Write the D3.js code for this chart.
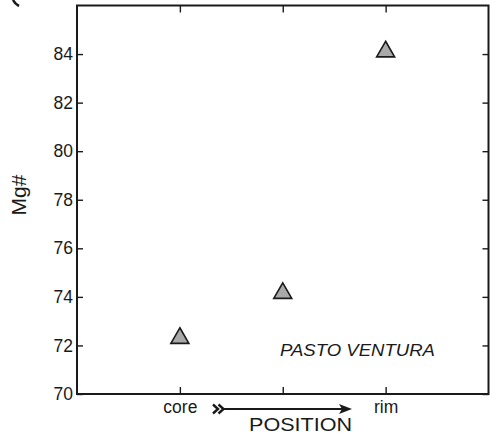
<!DOCTYPE html>
<html>
<head>
<meta charset="utf-8">
<script src="https://cdn.jsdelivr.net/npm/d3@7"></script>
<style>
  html, body { margin: 0; padding: 0; background: #fff; }
  svg { display: block; font-family: "Liberation Sans", Arial, sans-serif; }
</style>
</head>
<body>
<svg id="chart" width="490" height="434"></svg>
<script>
// Mg# of the crystal zones, core to rim
const positionLabels = ["core", "", "rim"];
const positionIndex = [1, 2, 3];
const mgNumber = [72.3, 74.15, 84.1];
const yTicks = [70, 72, 74, 76, 78, 80, 82, 84];

const svg = d3.select("#chart");
const plotLeft = 77, plotRight = 488.5, plotTop = 5.5, plotBottom = 394;

const x = d3.scaleLinear().domain([0, 4]).range([plotLeft, plotRight]);
const y = d3.scaleLinear().domain([70, 86]).range([plotBottom, plotTop]);

const ink = "#1a1a1a";
const font = "'Liberation Sans', Arial, sans-serif";

// left axis with labels, ticks pointing inward
const gl = svg.append("g").attr("transform", `translate(${plotLeft},0)`)
  .call(d3.axisLeft(y).tickValues(yTicks).tickFormat(d3.format("d"))
    .tickSizeInner(-6).tickSizeOuter(0).tickPadding(4));
// right axis, ticks only
const gr = svg.append("g").attr("transform", `translate(${plotRight},0)`)
  .call(d3.axisRight(y).tickValues(yTicks).tickFormat("")
    .tickSizeInner(-6).tickSizeOuter(0));
// bottom axis with position labels
const gb = svg.append("g").attr("transform", `translate(0,${plotBottom})`)
  .call(d3.axisBottom(x).tickValues(positionIndex)
    .tickFormat((d, i) => positionLabels[i])
    .tickSizeInner(-7).tickSizeOuter(0).tickPadding(7));
// top axis, ticks only
const gt = svg.append("g").attr("transform", `translate(0,${plotTop})`)
  .call(d3.axisTop(x).tickValues(positionIndex).tickFormat("")
    .tickSizeInner(-7).tickSizeOuter(0));

[gl, gr, gb, gt].forEach(g => {
  g.attr("font-family", font).attr("font-size", 17.5);
  g.select(".domain").remove();
  g.selectAll(".tick line").attr("stroke", ink).attr("stroke-width", 1.4);
  g.selectAll(".tick text").attr("fill", ink);
});

// frame
svg.append("rect")
  .attr("x", plotLeft).attr("y", plotTop)
  .attr("width", plotRight - plotLeft).attr("height", plotBottom - plotTop)
  .attr("fill", "none").attr("stroke", ink).attr("stroke-width", 2);

// data points
const tri = d3.symbol().type(d3.symbolTriangle).size(140);
svg.append("g").selectAll("path")
  .data(mgNumber)
  .join("path")
  .attr("d", tri)
  .attr("transform", (d, i) => `translate(${x(positionIndex[i])},${y(d)})`)
  .attr("fill", "#a9a9a9")
  .attr("stroke", ink)
  .attr("stroke-width", 1.6)
  .attr("stroke-linejoin", "miter");

// locality label
svg.append("text")
  .attr("x", 280).attr("y", 356)
  .attr("textLength", 155).attr("lengthAdjust", "spacingAndGlyphs")
  .attr("font-family", font).attr("font-size", 16.5).attr("font-style", "italic")
  .attr("fill", ink)
  .text("PASTO VENTURA");

// y axis title
svg.append("text")
  .attr("transform", "translate(26,195) rotate(-90)")
  .attr("text-anchor", "middle")
  .attr("font-family", font).attr("font-size", 21)
  .attr("fill", ink)
  .text("Mg#");

// direction arrow for the x axis
const ay = 409;
const chevron = x0 => `M${x0},${ay - 4.5} L${x0 + 5},${ay} L${x0},${ay + 4.5}`;
svg.append("path")
  .attr("d", chevron(213) + " " + chevron(218.5))
  .attr("fill", "none").attr("stroke", ink).attr("stroke-width", 2.4);
svg.append("line")
  .attr("x1", 222).attr("x2", 344).attr("y1", ay).attr("y2", ay)
  .attr("stroke", ink).attr("stroke-width", 2);
svg.append("path")
  .attr("d", `M352,${ay} L339,${ay - 5} L342,${ay} L339,${ay + 5} Z`)
  .attr("fill", ink);

svg.append("text")
  .attr("x", 249).attr("y", 431)
  .attr("textLength", 103).attr("lengthAdjust", "spacingAndGlyphs")
  .attr("font-family", font).attr("font-size", 19)
  .attr("fill", ink)
  .text("POSITION");

// fragment of the panel mark at the top edge
svg.append("path")
  .attr("d", "M13,0 Q15,4 19,6")
  .attr("fill", "none").attr("stroke", ink).attr("stroke-width", 2.6);
</script>
</body>
</html>
